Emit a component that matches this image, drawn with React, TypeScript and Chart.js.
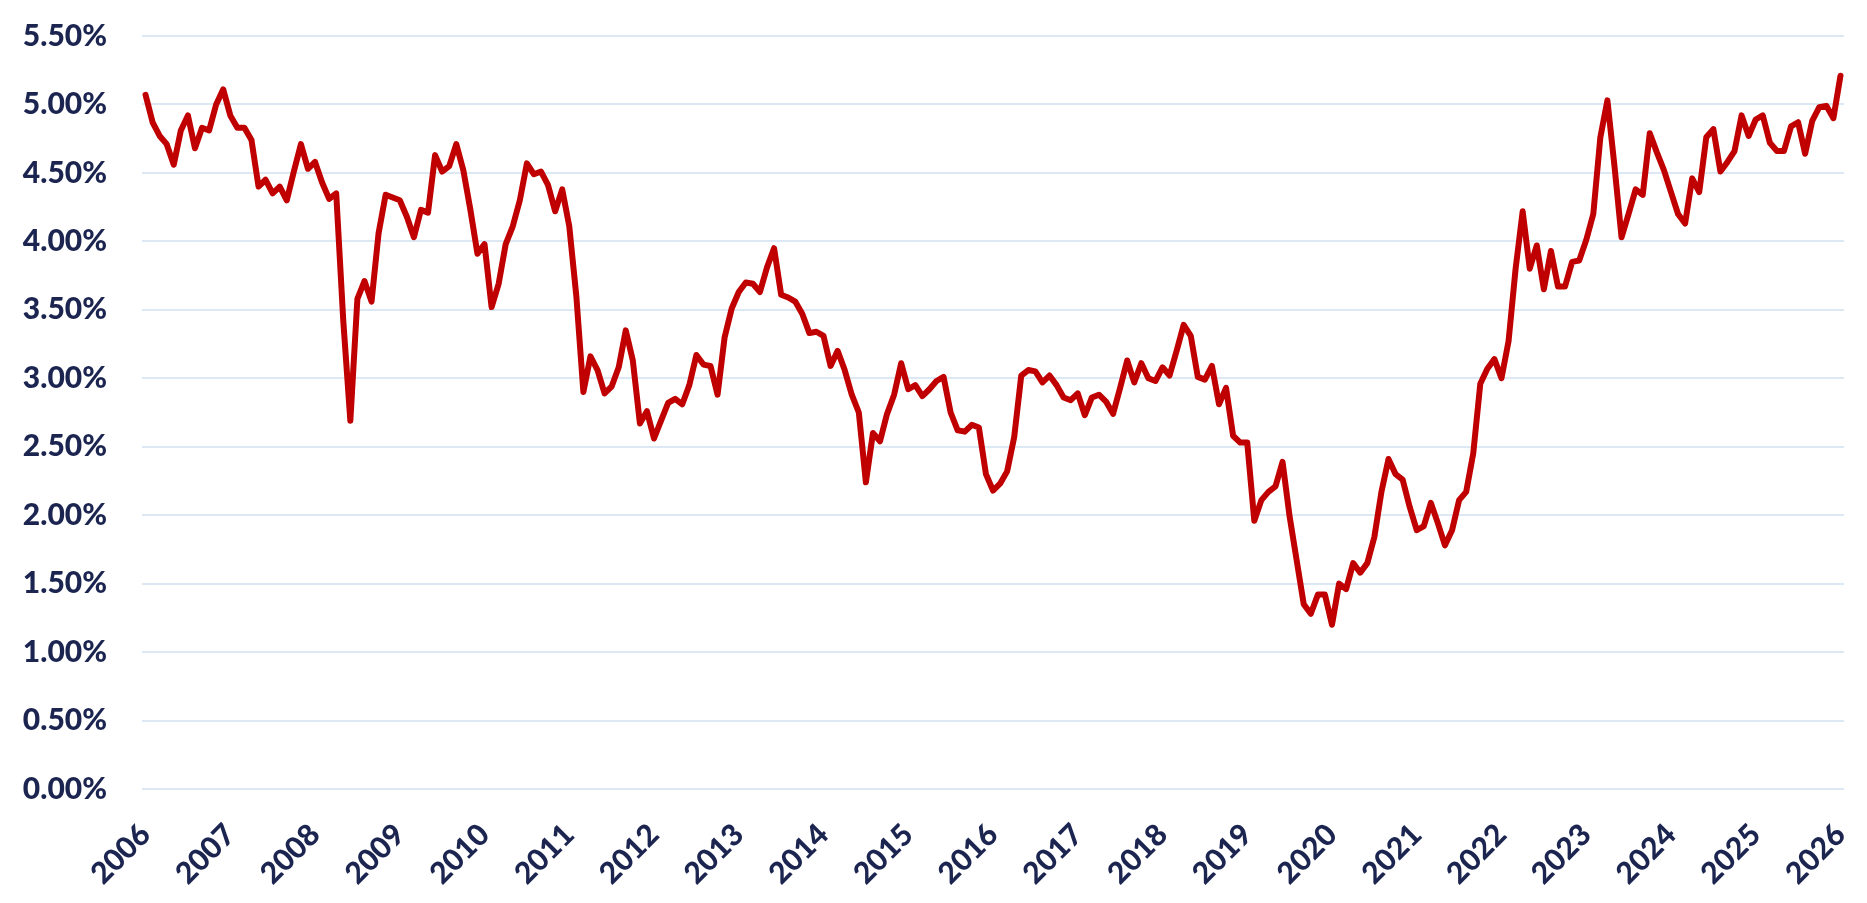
import React, { useEffect, useRef } from 'react';
import { Chart, registerables } from 'chart.js';

Chart.register(...registerables);

// Tick labels (one per January)
const yearLabels = [2006, 2007, 2008, 2009, 2010, 2011, 2012, 2013, 2014, 2015, 2016, 2017, 2018, 2019, 2020, 2021, 2022, 2023, 2024, 2025, 2026];
const monthNames = ['Jan', 'Feb', 'Mar', 'Apr', 'May', 'Jun', 'Jul', 'Aug', 'Sep', 'Oct', 'Nov', 'Dec'];

// Monthly values (%)
const rates2006 = [5.07, 4.87, 4.77, 4.71, 4.56, 4.81, 4.92, 4.68, 4.83, 4.81, 5.0, 5.11];
const rates2007 = [4.92, 4.83, 4.83, 4.74, 4.4, 4.45, 4.35, 4.4, 4.3, 4.51, 4.71, 4.53];
const rates2008 = [4.58, 4.43, 4.31, 4.35, 3.42, 2.69, 3.58, 3.71, 3.56, 4.06, 4.34, 4.32];
const rates2009 = [4.3, 4.18, 4.03, 4.23, 4.21, 4.63, 4.51, 4.55, 4.71, 4.52, 4.23, 3.91];
const rates2010 = [3.98, 3.52, 3.69, 3.98, 4.11, 4.3, 4.57, 4.49, 4.51, 4.41, 4.22, 4.38];
const rates2011 = [4.11, 3.6, 2.9, 3.16, 3.06, 2.89, 2.94, 3.08, 3.35, 3.13, 2.67, 2.76];
const rates2012 = [2.56, 2.69, 2.82, 2.85, 2.81, 2.95, 3.17, 3.1, 3.09, 2.88, 3.3, 3.51];
const rates2013 = [3.63, 3.7, 3.69, 3.63, 3.81, 3.95, 3.61, 3.59, 3.56, 3.47, 3.33, 3.34];
const rates2014 = [3.31, 3.09, 3.2, 3.06, 2.88, 2.75, 2.24, 2.6, 2.54, 2.74, 2.88, 3.11];
const rates2015 = [2.92, 2.95, 2.87, 2.92, 2.98, 3.01, 2.75, 2.62, 2.61, 2.66, 2.64, 2.3];
const rates2016 = [2.18, 2.23, 2.32, 2.57, 3.02, 3.06, 3.05, 2.97, 3.02, 2.95, 2.86, 2.84];
const rates2017 = [2.89, 2.73, 2.86, 2.88, 2.83, 2.74, 2.93, 3.13, 2.97, 3.11, 3.0, 2.98];
const rates2018 = [3.08, 3.02, 3.2, 3.39, 3.31, 3.01, 2.99, 3.09, 2.81, 2.93, 2.58, 2.53];
const rates2019 = [2.53, 1.96, 2.11, 2.17, 2.21, 2.39, 1.99, 1.67, 1.35, 1.28, 1.42, 1.42];
const rates2020 = [1.2, 1.5, 1.46, 1.65, 1.58, 1.65, 1.84, 2.17, 2.41, 2.3, 2.26, 2.06];
const rates2021 = [1.89, 1.92, 2.09, 1.94, 1.78, 1.89, 2.11, 2.17, 2.45, 2.96, 3.07, 3.14];
const rates2022 = [3.0, 3.27, 3.8, 4.22, 3.8, 3.97, 3.65, 3.93, 3.67, 3.67, 3.85, 3.86];
const rates2023 = [4.01, 4.2, 4.76, 5.03, 4.55, 4.03, 4.2, 4.38, 4.34, 4.79, 4.65, 4.52];
const rates2024 = [4.36, 4.2, 4.13, 4.46, 4.36, 4.76, 4.82, 4.51, 4.58, 4.66, 4.92, 4.77];
const rates2025 = [4.89, 4.92, 4.72, 4.66, 4.66, 4.84, 4.87, 4.64, 4.88, 4.98, 4.99, 4.9];
const rates2026 = [5.21];

const values = [
  ...rates2006, ...rates2007, ...rates2008, ...rates2009, ...rates2010,
  ...rates2011, ...rates2012, ...rates2013, ...rates2014, ...rates2015,
  ...rates2016, ...rates2017, ...rates2018, ...rates2019, ...rates2020,
  ...rates2021, ...rates2022, ...rates2023, ...rates2024, ...rates2025,
  ...rates2026,
];

const categories = yearLabels
  .flatMap((y) => monthNames.map((m) => `${m} ${y}`))
  .slice(0, values.length);

const NAVY = '#1b2550';
const GRID = '#dde8f5';
const LINE = '#c00000';

export default function App() {
  const ref = useRef<HTMLCanvasElement>(null);

  useEffect(() => {
    if (!ref.current) return;
    const chart = new Chart(ref.current, {
      type: 'line',
      data: {
        labels: categories,
        datasets: [
          {
            data: values,
            borderColor: LINE,
            borderWidth: 6,
            pointRadius: 0,
            pointHoverRadius: 0,
            tension: 0,
            fill: false,
            borderJoinStyle: 'round',
            borderCapStyle: 'round',
          },
        ],
      },
      options: {
        animation: false,
        responsive: true,
        maintainAspectRatio: false,
        layout: { padding: { top: 36, right: 23, bottom: 0, left: 0 } },
        plugins: {
          legend: { display: false },
          tooltip: { enabled: false },
        },
        scales: {
          x: {
            type: 'category',
            offset: true,
            grid: { display: false },
            border: { display: false },
            ticks: {
              autoSkip: false,
              minRotation: 45,
              maxRotation: 45,
              padding: 20,
              color: NAVY,
              font: { family: 'Lato', size: 30, weight: '900' },
              callback: (_v: any, i: number) => (i % 12 === 0 ? String(yearLabels[i / 12]) : ''),
            },
            afterFit: (s: any) => {
              s.height = 114;
              s.paddingLeft = 0;
              s.paddingRight = 0;
            },
          },
          y: {
            min: 0,
            max: 5.5,
            grid: { color: GRID, lineWidth: 2, drawTicks: false },
            border: { display: false },
            ticks: {
              stepSize: 0.5,
              padding: 35,
              color: NAVY,
              font: { family: 'Lato', size: 30, weight: '900' },
              callback: (v: any) => Number(v).toFixed(2) + '%',
            },
            afterFit: (s: any) => {
              s.width = 142;
              s.paddingTop = 0;
              s.paddingBottom = 0;
            },
          },
        },
      },
    });
    return () => chart.destroy();
  }, []);

  return (
    <div style={{ position: 'absolute', left: 0, top: 0, width: 1867, height: 903, background: '#fff' }}>
      <canvas ref={ref} />
    </div>
  );
}
